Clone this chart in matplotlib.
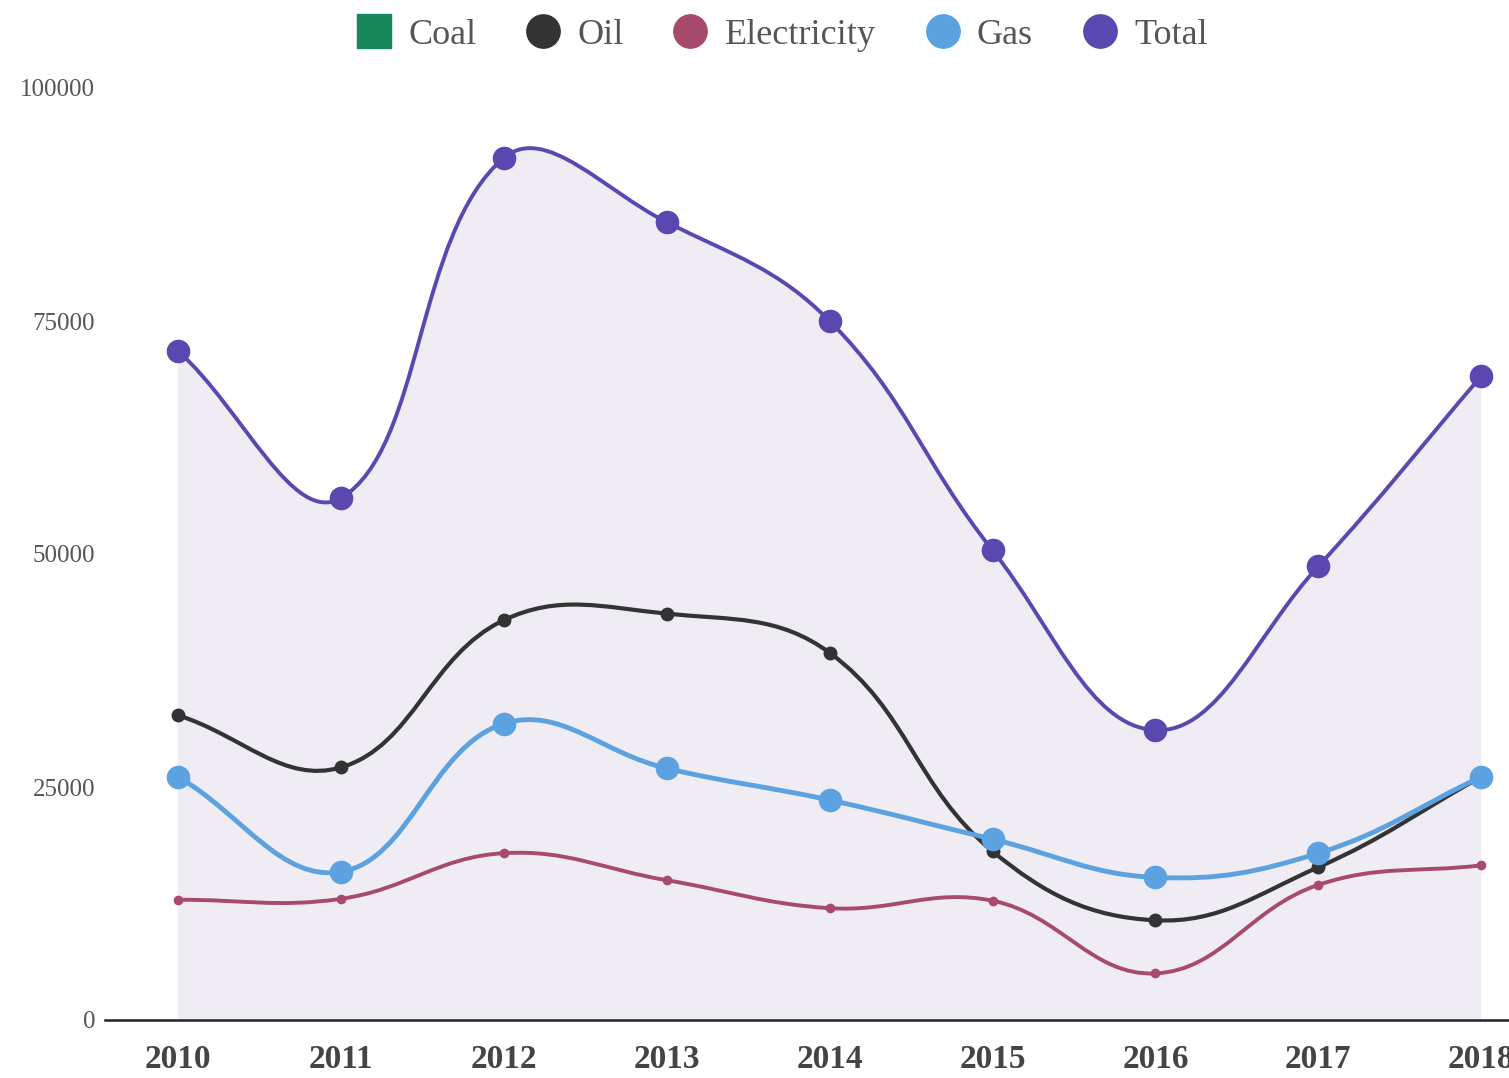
import numpy as np
import matplotlib
matplotlib.use("Agg")
import matplotlib.pyplot as plt
from matplotlib.path import Path
from matplotlib.patches import PathPatch
from matplotlib.lines import Line2D

years = [2010, 2011, 2012, 2013, 2014, 2015, 2016, 2017, 2018]
oil = [32700, 27100, 42900, 43600, 39400, 18100, 10700, 16400, 26100]
electricity = [12900, 13000, 17900, 15000, 12000, 12800, 5000, 14500, 16600]
gas = [26100, 15900, 31800, 27000, 23600, 19400, 15300, 17900, 26100]
total = [71800, 56000, 92500, 85600, 75000, 50400, 31100, 48700, 69100]

C_COAL = "#16875a"
C_OIL = "#333333"
C_ELEC = "#a84a6c"
C_GAS = "#5ca2e0"
C_TOTAL = "#5a48b0"
C_FILL = "#f0ecf3"

plt.rcParams["font.family"] = ["Liberation Serif", "DejaVu Serif"]

fig = plt.figure(figsize=(15.09, 10.78), dpi=100)
ax = fig.add_axes([105 / 1509, 58 / 1078, 1404 / 1509, 932 / 1078])
ax.set_xlim(2009.552, 2018.17)
ax.set_ylim(0, 100000)


def spline_path(xs, ys, tension=0.4):
    """Cubic bezier through the points, control points computed in pixel space."""
    pts = ax.transData.transform(np.column_stack([xs, ys]))
    n = len(pts)
    cps = []
    for i in range(n):
        prev = pts[max(i - 1, 0)]
        cur = pts[i]
        nxt = pts[min(i + 1, n - 1)]
        d01 = np.hypot(*(cur - prev))
        d12 = np.hypot(*(nxt - cur))
        tot = d01 + d12 if d01 + d12 > 0 else 1.0
        fa = tension * d01 / tot
        fb = tension * d12 / tot
        cps.append((cur - fa * (nxt - prev), cur + fb * (nxt - prev)))
    verts = [pts[0]]
    codes = [Path.MOVETO]
    for i in range(n - 1):
        verts += [cps[i][1], cps[i + 1][0], pts[i + 1]]
        codes += [Path.CURVE4] * 3
    inv = ax.transData.inverted()
    return inv.transform(np.array(verts)), codes


def draw_series(ys, color, lw, ms, zorder, fill=None):
    verts, codes = spline_path(years, ys)
    if fill is not None:
        fv = np.vstack([verts, [[years[-1], 0], [years[0], 0], [years[0], 0]]])
        fc = codes + [Path.LINETO, Path.LINETO, Path.CLOSEPOLY]
        ax.add_patch(PathPatch(Path(fv, fc), facecolor=fill, edgecolor="none",
                               zorder=1))
    ax.add_patch(PathPatch(Path(verts, codes), facecolor="none", edgecolor=color,
                           lw=lw, zorder=zorder, capstyle="round"))
    ax.plot(years, ys, "o", color=color, ms=ms, mew=0, zorder=zorder + 0.5,
            clip_on=False)


draw_series(total, C_TOTAL, 2.8, 17, 3, fill=C_FILL)
draw_series(oil, C_OIL, 3.0, 10, 4)
draw_series(electricity, C_ELEC, 2.8, 7, 4)
draw_series(gas, C_GAS, 3.5, 17, 5)

for s in ["top", "right", "left"]:
    ax.spines[s].set_visible(False)
ax.spines["bottom"].set_color("#222222")
ax.spines["bottom"].set_linewidth(1.8)

ax.set_yticks([0, 25000, 50000, 75000, 100000])
ax.set_yticklabels(["0", "25000", "50000", "75000", "100000"])
ax.tick_params(axis="y", length=0, pad=7, labelsize=18, labelcolor="#555555")
ax.set_xticks(years)
ax.set_xticklabels([str(y) for y in years], fontweight="bold")
ax.tick_params(axis="x", length=0, pad=17, labelsize=24, labelcolor="#444444")

handles = [
    Line2D([], [], ls="none", marker="s", ms=24, color=C_COAL),
    Line2D([], [], ls="none", marker="o", ms=24, color=C_OIL),
    Line2D([], [], ls="none", marker="o", ms=24, color=C_ELEC),
    Line2D([], [], ls="none", marker="o", ms=24, color=C_GAS),
    Line2D([], [], ls="none", marker="o", ms=24, color=C_TOTAL),
]
labels = ["Coal", "Oil", "Electricity", "Gas", "Total"]
leg = fig.legend(handles, labels, loc="center", bbox_to_anchor=(0.518, 1 - 35 / 1078),
                 ncol=5, frameon=False, fontsize=26, handletextpad=0.45,
                 columnspacing=1.35, handlelength=1.0)
for t in leg.get_texts():
    t.set_color("#555555")

fig.savefig("out.png", dpi=100, facecolor="white")
